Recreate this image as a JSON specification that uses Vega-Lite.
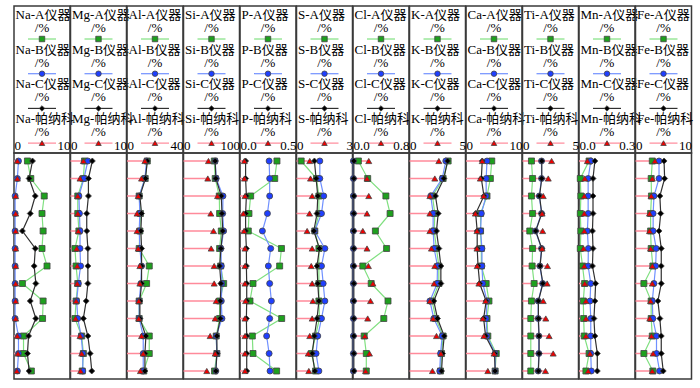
{
"$schema":"https://vega.github.io/schema/vega-lite/v6.json",
"padding":{"left":9,"top":5,"right":5,"bottom":5},
"data":{"values":[
{"el":"Na","s":1,"A":2.4,"B":0.8,"C":3.3,"P":0.6},{"el":"Na","s":2,"A":3.0,"B":0.6,"C":2.7,"P":0.6},{"el":"Na","s":3,"A":5.4,"B":0.2,"C":3.8,"P":0.3},{"el":"Na","s":4,"A":5.0,"B":0.2,"C":2.9,"P":0.3},{"el":"Na","s":5,"A":5.2,"B":0.2,"C":1.5,"P":0.3},{"el":"Na","s":6,"A":5.0,"B":0.2,"C":3.8,"P":0.3},{"el":"Na","s":7,"A":5.9,"B":0.2,"C":3.6,"P":0.3},{"el":"Na","s":8,"A":1.5,"B":0.2,"C":3.9,"P":0.3},{"el":"Na","s":9,"A":5.2,"B":0.2,"C":2.9,"P":0.3},{"el":"Na","s":10,"A":5.1,"B":0.2,"C":3.9,"P":0.3},{"el":"Na","s":11,"A":1.7,"B":0.8,"C":2.6,"P":0.6},{"el":"Na","s":12,"A":1.7,"B":0.8,"C":2.4,"P":0.7},{"el":"Na","s":13,"A":3.1,"B":0.6,"C":2.7,"P":0.5},
{"el":"Mg","s":1,"A":2.5,"B":3.1,"C":3.9,"P":2.3},{"el":"Mg","s":2,"A":2.3,"B":2.4,"C":3.2,"P":1.7},{"el":"Mg","s":3,"A":1.3,"B":1.5,"C":3.2,"P":1.3},{"el":"Mg","s":4,"A":1.3,"B":1.6,"C":2.9,"P":1.3},{"el":"Mg","s":5,"A":1.5,"B":1.7,"C":2.9,"P":1.4},{"el":"Mg","s":6,"A":0.8,"B":1.7,"C":3.1,"P":1.1},{"el":"Mg","s":7,"A":1.0,"B":1.8,"C":3.1,"P":1.2},{"el":"Mg","s":8,"A":1.3,"B":1.4,"C":3.1,"P":1.2},{"el":"Mg","s":9,"A":1.0,"B":1.1,"C":2.8,"P":1.0},{"el":"Mg","s":10,"A":0.8,"B":1.3,"C":2.3,"P":0.9},{"el":"Mg","s":11,"A":2.0,"B":1.9,"C":3.1,"P":1.7},{"el":"Mg","s":12,"A":2.3,"B":2.2,"C":3.5,"P":2.0},{"el":"Mg","s":13,"A":2.1,"B":2.2,"C":3.8,"P":1.8},
{"el":"Al","s":1,"A":14.5,"B":14,"C":14.5,"P":12.8},{"el":"Al","s":2,"A":13,"B":12.8,"C":13.2,"P":10.4},{"el":"Al","s":3,"A":8.7,"B":8.7,"C":9.2,"P":8},{"el":"Al","s":4,"A":9.6,"B":9.2,"C":10.4,"P":7.2},{"el":"Al","s":5,"A":9.2,"B":8.7,"C":9.9,"P":7.2},{"el":"Al","s":6,"A":8.7,"B":9.2,"C":10.4,"P":8},{"el":"Al","s":7,"A":15.9,"B":10.4,"C":10.4,"P":9.2},{"el":"Al","s":8,"A":14,"B":9.9,"C":10.4,"P":9.2},{"el":"Al","s":9,"A":8.7,"B":8.7,"C":9.2,"P":8.4},{"el":"Al","s":10,"A":8.7,"B":8.7,"C":9.2,"P":8.4},{"el":"Al","s":11,"A":15.9,"B":11.6,"C":13.5,"P":10.4},{"el":"Al","s":12,"A":15.9,"B":11.6,"C":12.8,"P":11.6},{"el":"Al","s":13,"A":12,"B":11.6,"C":12.8,"P":9.6},
{"el":"Si","s":1,"A":55,"B":56.6,"C":56.6,"P":44.6},{"el":"Si","s":2,"A":56.6,"B":58.4,"C":57.8,"P":43.4},{"el":"Si","s":3,"A":63.9,"B":70.5,"C":67.5,"P":60.8},{"el":"Si","s":4,"A":64.5,"B":70,"C":68.7,"P":48.8},{"el":"Si","s":5,"A":67.5,"B":71.7,"C":70,"P":53.6},{"el":"Si","s":6,"A":64.5,"B":66.9,"C":66.9,"P":49.4},{"el":"Si","s":7,"A":66.3,"B":67.5,"C":64.5,"P":54.8},{"el":"Si","s":8,"A":71.7,"B":68.7,"C":66.9,"P":54.8},{"el":"Si","s":9,"A":64.5,"B":67.5,"C":65.7,"P":58.4},{"el":"Si","s":10,"A":64.5,"B":68.7,"C":65.7,"P":56.6},{"el":"Si","s":11,"A":58.4,"B":58.4,"C":59.6,"P":47.6},{"el":"Si","s":12,"A":59.6,"B":59.6,"C":59.6,"P":56.6},{"el":"Si","s":13,"A":55.4,"B":57.8,"C":57.8,"P":41.6},
{"el":"P","s":1,"A":0.33,"B":0.26,"C":0.05,"P":0.039},{"el":"P","s":2,"A":0.31,"B":0.265,"C":0.05,"P":0.04},{"el":"P","s":3,"A":0.095,"B":0.265,"C":0.057,"P":0.045},{"el":"P","s":4,"A":0.08,"B":0.245,"C":0.05,"P":0.03},{"el":"P","s":5,"A":0.074,"B":0.2,"C":0.05,"P":0.036},{"el":"P","s":6,"A":0.37,"B":0.274,"C":0.057,"P":0.045},{"el":"P","s":7,"A":0.354,"B":0.253,"C":0.057,"P":0.045},{"el":"P","s":8,"A":0.116,"B":0.265,"C":0.06,"P":0.045},{"el":"P","s":9,"A":0.089,"B":0.28,"C":0.06,"P":0.05},{"el":"P","s":10,"A":0.372,"B":0.265,"C":0.057,"P":0.045},{"el":"P","s":11,"A":0.11,"B":0.238,"C":0.06,"P":0.045},{"el":"P","s":12,"A":0.116,"B":0.26,"C":0.06,"P":0.045},{"el":"P","s":13,"A":0.327,"B":0.268,"C":0.06,"P":0.045},
{"el":"S","s":1,"A":0.25,"B":1.25,"C":0.96,"P":0.71},{"el":"S","s":2,"A":1.07,"B":1.25,"C":1.05,"P":0.75},{"el":"S","s":3,"A":1.2,"B":1.46,"C":1.14,"P":0.84},{"el":"S","s":4,"A":1.2,"B":1.34,"C":1.1,"P":0.7},{"el":"S","s":5,"A":0.98,"B":0.98,"C":0.93,"P":0.57},{"el":"S","s":6,"A":1.2,"B":1.52,"C":1.23,"P":0.84},{"el":"S","s":7,"A":1.2,"B":1.34,"C":1.1,"P":0.79},{"el":"S","s":8,"A":1.2,"B":1.43,"C":1.14,"P":0.84},{"el":"S","s":9,"A":1.2,"B":1.52,"C":1.2,"P":0.88},{"el":"S","s":10,"A":1.23,"B":1.34,"C":1.1,"P":0.84},{"el":"S","s":11,"A":1.02,"B":1.14,"C":0.96,"P":0.71},{"el":"S","s":12,"A":0.8,"B":1.05,"C":0.84,"P":0.63},{"el":"S","s":13,"A":1.02,"B":1.2,"C":0.98,"P":0.66},
{"el":"Cl","s":1,"A":0.077,"B":0.005,"C":0.012,"P":0.225},{"el":"Cl","s":2,"A":0.21,"B":0.005,"C":0.012,"P":0.2},{"el":"Cl","s":3,"A":0.47,"B":0.005,"C":0.012,"P":0.225},{"el":"Cl","s":4,"A":0.53,"B":0.005,"C":0.012,"P":0.2},{"el":"Cl","s":5,"A":0.32,"B":0.005,"C":0.012,"P":0.14},{"el":"Cl","s":6,"A":0.48,"B":0.005,"C":0.012,"P":0.2},{"el":"Cl","s":7,"A":0.14,"B":0.005,"C":0.012,"P":0.22},{"el":"Cl","s":8,"A":0.26,"B":0.005,"C":0.012,"P":0.285},{"el":"Cl","s":9,"A":0.5,"B":0.005,"C":0.012,"P":0.25},{"el":"Cl","s":10,"A":0.44,"B":0.005,"C":0.012,"P":0.21},{"el":"Cl","s":11,"A":0.16,"B":0.005,"C":0.012,"P":0.17},{"el":"Cl","s":12,"A":0.19,"B":0.005,"C":0.012,"P":0.235},{"el":"Cl","s":13,"A":0.19,"B":0.005,"C":0.012,"P":0.18},
{"el":"K","s":1,"A":3.45,"B":3.24,"C":3.4,"P":2.62},{"el":"K","s":2,"A":3.0,"B":2.92,"C":3.07,"P":2.26},{"el":"K","s":3,"A":2.05,"B":1.9,"C":2.32,"P":1.82},{"el":"K","s":4,"A":2.26,"B":2.11,"C":2.56,"P":1.82},{"el":"K","s":5,"A":2.2,"B":2.11,"C":2.41,"P":1.82},{"el":"K","s":6,"A":2.41,"B":2.2,"C":2.62,"P":1.96},{"el":"K","s":7,"A":2.62,"B":2.5,"C":2.8,"P":2.26},{"el":"K","s":8,"A":2.62,"B":2.47,"C":2.8,"P":2.2},{"el":"K","s":9,"A":2.02,"B":1.82,"C":2.17,"P":1.82},{"el":"K","s":10,"A":2.35,"B":2.17,"C":2.5,"P":2.11},{"el":"K","s":11,"A":3.0,"B":2.92,"C":3.1,"P":2.41},{"el":"K","s":12,"A":2.86,"B":2.77,"C":2.95,"P":2.8},{"el":"K","s":13,"A":2.77,"B":2.7,"C":2.86,"P":2.05},
{"el":"Ca","s":1,"A":4.6,"B":3.75,"C":2.9,"P":2.9},{"el":"Ca","s":2,"A":4.35,"B":3.6,"C":2.74,"P":2.56},{"el":"Ca","s":3,"A":3.75,"B":3.6,"C":3.2,"P":3.15},{"el":"Ca","s":4,"A":2.6,"B":2.74,"C":1.73,"P":1.67},{"el":"Ca","s":5,"A":2.6,"B":2.6,"C":2.0,"P":1.96},{"el":"Ca","s":6,"A":2.74,"B":2.85,"C":2.0,"P":1.96},{"el":"Ca","s":7,"A":2.74,"B":2.85,"C":2.15,"P":2.0},{"el":"Ca","s":8,"A":3.6,"B":3.0,"C":2.44,"P":2.3},{"el":"Ca","s":9,"A":4.1,"B":3.75,"C":3.6,"P":3.5},{"el":"Ca","s":10,"A":3.75,"B":3.6,"C":3.15,"P":3.0},{"el":"Ca","s":11,"A":3.9,"B":3.75,"C":3.5,"P":3.2},{"el":"Ca","s":12,"A":5.4,"B":5.2,"C":5.1,"P":5.0},{"el":"Ca","s":13,"A":5.2,"B":5.2,"C":5.2,"P":3.9},
{"el":"Ti","s":1,"A":0.8,"B":1.7,"C":1.72,"P":2.6},{"el":"Ti","s":2,"A":0.9,"B":1.7,"C":1.72,"P":2.3},{"el":"Ti","s":3,"A":0.8,"B":1.5,"C":1.52,"P":1.85},{"el":"Ti","s":4,"A":0.9,"B":1.7,"C":1.72,"P":1.75},{"el":"Ti","s":5,"A":0.65,"B":1.16,"C":1.18,"P":1.8},{"el":"Ti","s":6,"A":0.9,"B":1.7,"C":1.72,"P":1.75},{"el":"Ti","s":7,"A":0.86,"B":1.55,"C":1.57,"P":2.23},{"el":"Ti","s":8,"A":1.04,"B":1.8,"C":1.82,"P":2.2},{"el":"Ti","s":9,"A":0.8,"B":1.4,"C":1.42,"P":1.85},{"el":"Ti","s":10,"A":0.74,"B":1.4,"C":1.42,"P":2.08},{"el":"Ti","s":11,"A":0.74,"B":1.46,"C":1.48,"P":2.38},{"el":"Ti","s":12,"A":0.74,"B":1.46,"C":1.48,"P":2.74},{"el":"Ti","s":13,"A":0.74,"B":1.4,"C":1.42,"P":2.05},
{"el":"Mn","s":1,"A":0.054,"B":0.063,"C":0.085,"P":0.045},{"el":"Mn","s":2,"A":0.007,"B":0.049,"C":0.075,"P":0.031},{"el":"Mn","s":3,"A":0.01,"B":0.049,"C":0.075,"P":0.028},{"el":"Mn","s":4,"A":0.007,"B":0.049,"C":0.075,"P":0.028},{"el":"Mn","s":5,"A":0.01,"B":0.045,"C":0.072,"P":0.028},{"el":"Mn","s":6,"A":0.007,"B":0.05,"C":0.075,"P":0.024},{"el":"Mn","s":7,"A":0.019,"B":0.049,"C":0.072,"P":0.028},{"el":"Mn","s":8,"A":0.03,"B":0.063,"C":0.089,"P":0.031},{"el":"Mn","s":9,"A":0.023,"B":0.059,"C":0.085,"P":0.037},{"el":"Mn","s":10,"A":0.025,"B":0.063,"C":0.08,"P":0.037},{"el":"Mn","s":11,"A":0.028,"B":0.063,"C":0.085,"P":0.037},{"el":"Mn","s":12,"A":0.054,"B":0.063,"C":0.098,"P":0.059},{"el":"Mn","s":13,"A":0.037,"B":0.066,"C":0.098,"P":0.049},
{"el":"Fe","s":1,"A":3.0,"B":4.2,"C":5.1,"P":3.45},{"el":"Fe","s":2,"A":2.8,"B":4.2,"C":5.2,"P":3.0},{"el":"Fe","s":3,"A":2.85,"B":3.3,"C":4.35,"P":2.8},{"el":"Fe","s":4,"A":2.7,"B":3.15,"C":4.5,"P":2.5},{"el":"Fe","s":5,"A":2.7,"B":3.15,"C":4.2,"P":2.5},{"el":"Fe","s":6,"A":2.8,"B":3.7,"C":4.6,"P":2.7},{"el":"Fe","s":7,"A":3.1,"B":3.6,"C":4.6,"P":3.0},{"el":"Fe","s":8,"A":1.5,"B":3.3,"C":4.6,"P":3.0},{"el":"Fe","s":9,"A":2.8,"B":3.0,"C":4.0,"P":2.7},{"el":"Fe","s":10,"A":2.8,"B":3.1,"C":4.35,"P":2.55},{"el":"Fe","s":11,"A":3.0,"B":3.75,"C":4.6,"P":2.85},{"el":"Fe","s":12,"A":1.5,"B":3.75,"C":4.6,"P":3.15},{"el":"Fe","s":13,"A":3.1,"B":4.3,"C":4.95,"P":3.0}
]},
"columns":12,
"spacing":{"column":0.5,"row":0},
"bounds":"flush",
"concat":[
{"width":56,"height":147,"transform":[{"filter":"datum.el=='Na' && datum.s==1"},{"fold":["A","B","C","P"],"as":["ser","v"]},{"calculate":"datum.el + '-' + (datum.ser == 'P' ? '帕纳科' : datum.ser + '仪器')","as":"lab"}],"encoding":{"y":{"field":"ser","type":"nominal","axis":null,"scale":{"type":"point","padding":0.618,"align":0.21}},"x":{"datum":0.5,"type":"quantitative","axis":null,"scale":{"domain":[0,1]}}},"layer":[{"mark":{"type":"text","fontSize":13,"baseline":"middle","align":"left","dx":1.5,"color":"#000"},"encoding":{"x":{"datum":0,"type":"quantitative"},"text":{"field":"lab","type":"nominal"}}},{"mark":{"type":"text","fontSize":13,"baseline":"middle","color":"#000","text":"/%","dy":13}},{"mark":{"type":"rule","yOffset":24,"strokeWidth":1.2},"encoding":{"x":{"datum":0.25,"type":"quantitative"},"x2":{"datum":0.75},"color":{"field":"ser","type":"nominal"}}},{"mark":{"type":"point","filled":true,"size":30,"stroke":"#444","strokeWidth":0.8,"opacity":1,"yOffset":24},"encoding":{"shape":{"field":"ser","type":"nominal"},"fill":{"field":"ser","type":"nominal","scale":{"range":["#1ea01e","#1f3fff","#000000","#ee0000"]}}}}]},
{"width":56,"height":147,"transform":[{"filter":"datum.el=='Mg' && datum.s==1"},{"fold":["A","B","C","P"],"as":["ser","v"]},{"calculate":"datum.el + '-' + (datum.ser == 'P' ? '帕纳科' : datum.ser + '仪器')","as":"lab"}],"encoding":{"y":{"field":"ser","type":"nominal","axis":null,"scale":{"type":"point","padding":0.618,"align":0.21}},"x":{"datum":0.5,"type":"quantitative","axis":null,"scale":{"domain":[0,1]}}},"layer":[{"mark":{"type":"text","fontSize":13,"baseline":"middle","align":"left","dx":1.5,"color":"#000"},"encoding":{"x":{"datum":0,"type":"quantitative"},"text":{"field":"lab","type":"nominal"}}},{"mark":{"type":"text","fontSize":13,"baseline":"middle","color":"#000","text":"/%","dy":13}},{"mark":{"type":"rule","yOffset":24,"strokeWidth":1.2},"encoding":{"x":{"datum":0.25,"type":"quantitative"},"x2":{"datum":0.75},"color":{"field":"ser","type":"nominal"}}},{"mark":{"type":"point","filled":true,"size":30,"stroke":"#444","strokeWidth":0.8,"opacity":1,"yOffset":24},"encoding":{"shape":{"field":"ser","type":"nominal"},"fill":{"field":"ser","type":"nominal","scale":{"range":["#1ea01e","#1f3fff","#000000","#ee0000"]}}}}]},
{"width":56,"height":147,"transform":[{"filter":"datum.el=='Al' && datum.s==1"},{"fold":["A","B","C","P"],"as":["ser","v"]},{"calculate":"datum.el + '-' + (datum.ser == 'P' ? '帕纳科' : datum.ser + '仪器')","as":"lab"}],"encoding":{"y":{"field":"ser","type":"nominal","axis":null,"scale":{"type":"point","padding":0.618,"align":0.21}},"x":{"datum":0.5,"type":"quantitative","axis":null,"scale":{"domain":[0,1]}}},"layer":[{"mark":{"type":"text","fontSize":13,"baseline":"middle","align":"left","dx":1.5,"color":"#000"},"encoding":{"x":{"datum":0,"type":"quantitative"},"text":{"field":"lab","type":"nominal"}}},{"mark":{"type":"text","fontSize":13,"baseline":"middle","color":"#000","text":"/%","dy":13}},{"mark":{"type":"rule","yOffset":24,"strokeWidth":1.2},"encoding":{"x":{"datum":0.25,"type":"quantitative"},"x2":{"datum":0.75},"color":{"field":"ser","type":"nominal"}}},{"mark":{"type":"point","filled":true,"size":30,"stroke":"#444","strokeWidth":0.8,"opacity":1,"yOffset":24},"encoding":{"shape":{"field":"ser","type":"nominal"},"fill":{"field":"ser","type":"nominal","scale":{"range":["#1ea01e","#1f3fff","#000000","#ee0000"]}}}}]},
{"width":56,"height":147,"transform":[{"filter":"datum.el=='Si' && datum.s==1"},{"fold":["A","B","C","P"],"as":["ser","v"]},{"calculate":"datum.el + '-' + (datum.ser == 'P' ? '帕纳科' : datum.ser + '仪器')","as":"lab"}],"encoding":{"y":{"field":"ser","type":"nominal","axis":null,"scale":{"type":"point","padding":0.618,"align":0.21}},"x":{"datum":0.5,"type":"quantitative","axis":null,"scale":{"domain":[0,1]}}},"layer":[{"mark":{"type":"text","fontSize":13,"baseline":"middle","align":"left","dx":1.5,"color":"#000"},"encoding":{"x":{"datum":0,"type":"quantitative"},"text":{"field":"lab","type":"nominal"}}},{"mark":{"type":"text","fontSize":13,"baseline":"middle","color":"#000","text":"/%","dy":13}},{"mark":{"type":"rule","yOffset":24,"strokeWidth":1.2},"encoding":{"x":{"datum":0.25,"type":"quantitative"},"x2":{"datum":0.75},"color":{"field":"ser","type":"nominal"}}},{"mark":{"type":"point","filled":true,"size":30,"stroke":"#444","strokeWidth":0.8,"opacity":1,"yOffset":24},"encoding":{"shape":{"field":"ser","type":"nominal"},"fill":{"field":"ser","type":"nominal","scale":{"range":["#1ea01e","#1f3fff","#000000","#ee0000"]}}}}]},
{"width":56,"height":147,"transform":[{"filter":"datum.el=='P' && datum.s==1"},{"fold":["A","B","C","P"],"as":["ser","v"]},{"calculate":"datum.el + '-' + (datum.ser == 'P' ? '帕纳科' : datum.ser + '仪器')","as":"lab"}],"encoding":{"y":{"field":"ser","type":"nominal","axis":null,"scale":{"type":"point","padding":0.618,"align":0.21}},"x":{"datum":0.5,"type":"quantitative","axis":null,"scale":{"domain":[0,1]}}},"layer":[{"mark":{"type":"text","fontSize":13,"baseline":"middle","align":"left","dx":1.5,"color":"#000"},"encoding":{"x":{"datum":0,"type":"quantitative"},"text":{"field":"lab","type":"nominal"}}},{"mark":{"type":"text","fontSize":13,"baseline":"middle","color":"#000","text":"/%","dy":13}},{"mark":{"type":"rule","yOffset":24,"strokeWidth":1.2},"encoding":{"x":{"datum":0.25,"type":"quantitative"},"x2":{"datum":0.75},"color":{"field":"ser","type":"nominal"}}},{"mark":{"type":"point","filled":true,"size":30,"stroke":"#444","strokeWidth":0.8,"opacity":1,"yOffset":24},"encoding":{"shape":{"field":"ser","type":"nominal"},"fill":{"field":"ser","type":"nominal","scale":{"range":["#1ea01e","#1f3fff","#000000","#ee0000"]}}}}]},
{"width":56,"height":147,"transform":[{"filter":"datum.el=='S' && datum.s==1"},{"fold":["A","B","C","P"],"as":["ser","v"]},{"calculate":"datum.el + '-' + (datum.ser == 'P' ? '帕纳科' : datum.ser + '仪器')","as":"lab"}],"encoding":{"y":{"field":"ser","type":"nominal","axis":null,"scale":{"type":"point","padding":0.618,"align":0.21}},"x":{"datum":0.5,"type":"quantitative","axis":null,"scale":{"domain":[0,1]}}},"layer":[{"mark":{"type":"text","fontSize":13,"baseline":"middle","align":"left","dx":1.5,"color":"#000"},"encoding":{"x":{"datum":0,"type":"quantitative"},"text":{"field":"lab","type":"nominal"}}},{"mark":{"type":"text","fontSize":13,"baseline":"middle","color":"#000","text":"/%","dy":13}},{"mark":{"type":"rule","yOffset":24,"strokeWidth":1.2},"encoding":{"x":{"datum":0.25,"type":"quantitative"},"x2":{"datum":0.75},"color":{"field":"ser","type":"nominal"}}},{"mark":{"type":"point","filled":true,"size":30,"stroke":"#444","strokeWidth":0.8,"opacity":1,"yOffset":24},"encoding":{"shape":{"field":"ser","type":"nominal"},"fill":{"field":"ser","type":"nominal","scale":{"range":["#1ea01e","#1f3fff","#000000","#ee0000"]}}}}]},
{"width":56,"height":147,"transform":[{"filter":"datum.el=='Cl' && datum.s==1"},{"fold":["A","B","C","P"],"as":["ser","v"]},{"calculate":"datum.el + '-' + (datum.ser == 'P' ? '帕纳科' : datum.ser + '仪器')","as":"lab"}],"encoding":{"y":{"field":"ser","type":"nominal","axis":null,"scale":{"type":"point","padding":0.618,"align":0.21}},"x":{"datum":0.5,"type":"quantitative","axis":null,"scale":{"domain":[0,1]}}},"layer":[{"mark":{"type":"text","fontSize":13,"baseline":"middle","align":"left","dx":1.5,"color":"#000"},"encoding":{"x":{"datum":0,"type":"quantitative"},"text":{"field":"lab","type":"nominal"}}},{"mark":{"type":"text","fontSize":13,"baseline":"middle","color":"#000","text":"/%","dy":13}},{"mark":{"type":"rule","yOffset":24,"strokeWidth":1.2},"encoding":{"x":{"datum":0.25,"type":"quantitative"},"x2":{"datum":0.75},"color":{"field":"ser","type":"nominal"}}},{"mark":{"type":"point","filled":true,"size":30,"stroke":"#444","strokeWidth":0.8,"opacity":1,"yOffset":24},"encoding":{"shape":{"field":"ser","type":"nominal"},"fill":{"field":"ser","type":"nominal","scale":{"range":["#1ea01e","#1f3fff","#000000","#ee0000"]}}}}]},
{"width":56,"height":147,"transform":[{"filter":"datum.el=='K' && datum.s==1"},{"fold":["A","B","C","P"],"as":["ser","v"]},{"calculate":"datum.el + '-' + (datum.ser == 'P' ? '帕纳科' : datum.ser + '仪器')","as":"lab"}],"encoding":{"y":{"field":"ser","type":"nominal","axis":null,"scale":{"type":"point","padding":0.618,"align":0.21}},"x":{"datum":0.5,"type":"quantitative","axis":null,"scale":{"domain":[0,1]}}},"layer":[{"mark":{"type":"text","fontSize":13,"baseline":"middle","align":"left","dx":1.5,"color":"#000"},"encoding":{"x":{"datum":0,"type":"quantitative"},"text":{"field":"lab","type":"nominal"}}},{"mark":{"type":"text","fontSize":13,"baseline":"middle","color":"#000","text":"/%","dy":13}},{"mark":{"type":"rule","yOffset":24,"strokeWidth":1.2},"encoding":{"x":{"datum":0.25,"type":"quantitative"},"x2":{"datum":0.75},"color":{"field":"ser","type":"nominal"}}},{"mark":{"type":"point","filled":true,"size":30,"stroke":"#444","strokeWidth":0.8,"opacity":1,"yOffset":24},"encoding":{"shape":{"field":"ser","type":"nominal"},"fill":{"field":"ser","type":"nominal","scale":{"range":["#1ea01e","#1f3fff","#000000","#ee0000"]}}}}]},
{"width":56,"height":147,"transform":[{"filter":"datum.el=='Ca' && datum.s==1"},{"fold":["A","B","C","P"],"as":["ser","v"]},{"calculate":"datum.el + '-' + (datum.ser == 'P' ? '帕纳科' : datum.ser + '仪器')","as":"lab"}],"encoding":{"y":{"field":"ser","type":"nominal","axis":null,"scale":{"type":"point","padding":0.618,"align":0.21}},"x":{"datum":0.5,"type":"quantitative","axis":null,"scale":{"domain":[0,1]}}},"layer":[{"mark":{"type":"text","fontSize":13,"baseline":"middle","align":"left","dx":1.5,"color":"#000"},"encoding":{"x":{"datum":0,"type":"quantitative"},"text":{"field":"lab","type":"nominal"}}},{"mark":{"type":"text","fontSize":13,"baseline":"middle","color":"#000","text":"/%","dy":13}},{"mark":{"type":"rule","yOffset":24,"strokeWidth":1.2},"encoding":{"x":{"datum":0.25,"type":"quantitative"},"x2":{"datum":0.75},"color":{"field":"ser","type":"nominal"}}},{"mark":{"type":"point","filled":true,"size":30,"stroke":"#444","strokeWidth":0.8,"opacity":1,"yOffset":24},"encoding":{"shape":{"field":"ser","type":"nominal"},"fill":{"field":"ser","type":"nominal","scale":{"range":["#1ea01e","#1f3fff","#000000","#ee0000"]}}}}]},
{"width":56,"height":147,"transform":[{"filter":"datum.el=='Ti' && datum.s==1"},{"fold":["A","B","C","P"],"as":["ser","v"]},{"calculate":"datum.el + '-' + (datum.ser == 'P' ? '帕纳科' : datum.ser + '仪器')","as":"lab"}],"encoding":{"y":{"field":"ser","type":"nominal","axis":null,"scale":{"type":"point","padding":0.618,"align":0.21}},"x":{"datum":0.5,"type":"quantitative","axis":null,"scale":{"domain":[0,1]}}},"layer":[{"mark":{"type":"text","fontSize":13,"baseline":"middle","align":"left","dx":1.5,"color":"#000"},"encoding":{"x":{"datum":0,"type":"quantitative"},"text":{"field":"lab","type":"nominal"}}},{"mark":{"type":"text","fontSize":13,"baseline":"middle","color":"#000","text":"/%","dy":13}},{"mark":{"type":"rule","yOffset":24,"strokeWidth":1.2},"encoding":{"x":{"datum":0.25,"type":"quantitative"},"x2":{"datum":0.75},"color":{"field":"ser","type":"nominal"}}},{"mark":{"type":"point","filled":true,"size":30,"stroke":"#444","strokeWidth":0.8,"opacity":1,"yOffset":24},"encoding":{"shape":{"field":"ser","type":"nominal"},"fill":{"field":"ser","type":"nominal","scale":{"range":["#1ea01e","#1f3fff","#000000","#ee0000"]}}}}]},
{"width":56,"height":147,"transform":[{"filter":"datum.el=='Mn' && datum.s==1"},{"fold":["A","B","C","P"],"as":["ser","v"]},{"calculate":"datum.el + '-' + (datum.ser == 'P' ? '帕纳科' : datum.ser + '仪器')","as":"lab"}],"encoding":{"y":{"field":"ser","type":"nominal","axis":null,"scale":{"type":"point","padding":0.618,"align":0.21}},"x":{"datum":0.5,"type":"quantitative","axis":null,"scale":{"domain":[0,1]}}},"layer":[{"mark":{"type":"text","fontSize":13,"baseline":"middle","align":"left","dx":1.5,"color":"#000"},"encoding":{"x":{"datum":0,"type":"quantitative"},"text":{"field":"lab","type":"nominal"}}},{"mark":{"type":"text","fontSize":13,"baseline":"middle","color":"#000","text":"/%","dy":13}},{"mark":{"type":"rule","yOffset":24,"strokeWidth":1.2},"encoding":{"x":{"datum":0.25,"type":"quantitative"},"x2":{"datum":0.75},"color":{"field":"ser","type":"nominal"}}},{"mark":{"type":"point","filled":true,"size":30,"stroke":"#444","strokeWidth":0.8,"opacity":1,"yOffset":24},"encoding":{"shape":{"field":"ser","type":"nominal"},"fill":{"field":"ser","type":"nominal","scale":{"range":["#1ea01e","#1f3fff","#000000","#ee0000"]}}}}]},
{"width":56,"height":147,"transform":[{"filter":"datum.el=='Fe' && datum.s==1"},{"fold":["A","B","C","P"],"as":["ser","v"]},{"calculate":"datum.el + '-' + (datum.ser == 'P' ? '帕纳科' : datum.ser + '仪器')","as":"lab"}],"encoding":{"y":{"field":"ser","type":"nominal","axis":null,"scale":{"type":"point","padding":0.618,"align":0.21}},"x":{"datum":0.5,"type":"quantitative","axis":null,"scale":{"domain":[0,1]}}},"layer":[{"mark":{"type":"text","fontSize":13,"baseline":"middle","align":"left","dx":1.5,"color":"#000"},"encoding":{"x":{"datum":0,"type":"quantitative"},"text":{"field":"lab","type":"nominal"}}},{"mark":{"type":"text","fontSize":13,"baseline":"middle","color":"#000","text":"/%","dy":13}},{"mark":{"type":"rule","yOffset":24,"strokeWidth":1.2},"encoding":{"x":{"datum":0.25,"type":"quantitative"},"x2":{"datum":0.75},"color":{"field":"ser","type":"nominal"}}},{"mark":{"type":"point","filled":true,"size":30,"stroke":"#444","strokeWidth":0.8,"opacity":1,"yOffset":24},"encoding":{"shape":{"field":"ser","type":"nominal"},"fill":{"field":"ser","type":"nominal","scale":{"range":["#1ea01e","#1f3fff","#000000","#ee0000"]}}}}]},
{"width":56,"height":226,"transform":[{"filter":"datum.el=='Na'"},{"fold":["A","B","C","P"],"as":["ser","v"]}],"encoding":{"y":{"field":"s","type":"ordinal","axis":null,"scale":{"type":"point","padding":0.457}},"x":{"field":"v","type":"quantitative","scale":{"domain":[0,10]},"axis":{"orient":"top","values":[0,10],"title":null}}},"layer":[{"transform":[{"filter":"datum.ser=='P'"}],"mark":{"type":"rule","color":"#ff8a9a","strokeWidth":1.5},"encoding":{"x":{"datum":0,"type":"quantitative"},"x2":{"field":"v"}}},{"transform":[{"filter":"datum.ser!='P'"}],"mark":{"type":"line","strokeWidth":1.2},"encoding":{"color":{"field":"ser","type":"nominal"},"order":{"field":"s","type":"quantitative"}}},{"mark":{"type":"point","filled":true,"size":36,"stroke":"#444","strokeWidth":0.8,"opacity":1},"encoding":{"shape":{"field":"ser","type":"nominal"},"fill":{"field":"ser","type":"nominal","scale":{"range":["#1ea01e","#1f3fff","#000000","#ee0000"]}}}}]},
{"width":56,"height":226,"transform":[{"filter":"datum.el=='Mg'"},{"fold":["A","B","C","P"],"as":["ser","v"]}],"encoding":{"y":{"field":"s","type":"ordinal","axis":null,"scale":{"type":"point","padding":0.457}},"x":{"field":"v","type":"quantitative","scale":{"domain":[0,10]},"axis":{"orient":"top","values":[0,10],"title":null}}},"layer":[{"transform":[{"filter":"datum.ser=='P'"}],"mark":{"type":"rule","color":"#ff8a9a","strokeWidth":1.5},"encoding":{"x":{"datum":0,"type":"quantitative"},"x2":{"field":"v"}}},{"transform":[{"filter":"datum.ser!='P'"}],"mark":{"type":"line","strokeWidth":1.2},"encoding":{"color":{"field":"ser","type":"nominal"},"order":{"field":"s","type":"quantitative"}}},{"mark":{"type":"point","filled":true,"size":36,"stroke":"#444","strokeWidth":0.8,"opacity":1},"encoding":{"shape":{"field":"ser","type":"nominal"},"fill":{"field":"ser","type":"nominal","scale":{"range":["#1ea01e","#1f3fff","#000000","#ee0000"]}}}}]},
{"width":56,"height":226,"transform":[{"filter":"datum.el=='Al'"},{"fold":["A","B","C","P"],"as":["ser","v"]}],"encoding":{"y":{"field":"s","type":"ordinal","axis":null,"scale":{"type":"point","padding":0.457}},"x":{"field":"v","type":"quantitative","scale":{"domain":[0,40]},"axis":{"orient":"top","values":[0,40],"title":null}}},"layer":[{"transform":[{"filter":"datum.ser=='P'"}],"mark":{"type":"rule","color":"#ff8a9a","strokeWidth":1.5},"encoding":{"x":{"datum":0,"type":"quantitative"},"x2":{"field":"v"}}},{"transform":[{"filter":"datum.ser!='P'"}],"mark":{"type":"line","strokeWidth":1.2},"encoding":{"color":{"field":"ser","type":"nominal"},"order":{"field":"s","type":"quantitative"}}},{"mark":{"type":"point","filled":true,"size":36,"stroke":"#444","strokeWidth":0.8,"opacity":1},"encoding":{"shape":{"field":"ser","type":"nominal"},"fill":{"field":"ser","type":"nominal","scale":{"range":["#1ea01e","#1f3fff","#000000","#ee0000"]}}}}]},
{"width":56,"height":226,"transform":[{"filter":"datum.el=='Si'"},{"fold":["A","B","C","P"],"as":["ser","v"]}],"encoding":{"y":{"field":"s","type":"ordinal","axis":null,"scale":{"type":"point","padding":0.457}},"x":{"field":"v","type":"quantitative","scale":{"domain":[0,100]},"axis":{"orient":"top","values":[0,100],"title":null}}},"layer":[{"transform":[{"filter":"datum.ser=='P'"}],"mark":{"type":"rule","color":"#ff8a9a","strokeWidth":1.5},"encoding":{"x":{"datum":0,"type":"quantitative"},"x2":{"field":"v"}}},{"transform":[{"filter":"datum.ser!='P'"}],"mark":{"type":"line","strokeWidth":1.2},"encoding":{"color":{"field":"ser","type":"nominal"},"order":{"field":"s","type":"quantitative"}}},{"mark":{"type":"point","filled":true,"size":36,"stroke":"#444","strokeWidth":0.8,"opacity":1},"encoding":{"shape":{"field":"ser","type":"nominal"},"fill":{"field":"ser","type":"nominal","scale":{"range":["#1ea01e","#1f3fff","#000000","#ee0000"]}}}}]},
{"width":56,"height":226,"transform":[{"filter":"datum.el=='P'"},{"fold":["A","B","C","P"],"as":["ser","v"]}],"encoding":{"y":{"field":"s","type":"ordinal","axis":null,"scale":{"type":"point","padding":0.457}},"x":{"field":"v","type":"quantitative","scale":{"domain":[0,0.5]},"axis":{"orient":"top","values":[0,0.5],"title":null}}},"layer":[{"transform":[{"filter":"datum.ser=='P'"}],"mark":{"type":"rule","color":"#ff8a9a","strokeWidth":1.5},"encoding":{"x":{"datum":0,"type":"quantitative"},"x2":{"field":"v"}}},{"transform":[{"filter":"datum.ser!='P'"}],"mark":{"type":"line","strokeWidth":1.2},"encoding":{"color":{"field":"ser","type":"nominal"},"order":{"field":"s","type":"quantitative"}}},{"mark":{"type":"point","filled":true,"size":36,"stroke":"#444","strokeWidth":0.8,"opacity":1},"encoding":{"shape":{"field":"ser","type":"nominal"},"fill":{"field":"ser","type":"nominal","scale":{"range":["#1ea01e","#1f3fff","#000000","#ee0000"]}}}}]},
{"width":56,"height":226,"transform":[{"filter":"datum.el=='S'"},{"fold":["A","B","C","P"],"as":["ser","v"]}],"encoding":{"y":{"field":"s","type":"ordinal","axis":null,"scale":{"type":"point","padding":0.457}},"x":{"field":"v","type":"quantitative","scale":{"domain":[0,3]},"axis":{"orient":"top","values":[0,3],"title":null}}},"layer":[{"transform":[{"filter":"datum.ser=='P'"}],"mark":{"type":"rule","color":"#ff8a9a","strokeWidth":1.5},"encoding":{"x":{"datum":0,"type":"quantitative"},"x2":{"field":"v"}}},{"transform":[{"filter":"datum.ser!='P'"}],"mark":{"type":"line","strokeWidth":1.2},"encoding":{"color":{"field":"ser","type":"nominal"},"order":{"field":"s","type":"quantitative"}}},{"mark":{"type":"point","filled":true,"size":36,"stroke":"#444","strokeWidth":0.8,"opacity":1},"encoding":{"shape":{"field":"ser","type":"nominal"},"fill":{"field":"ser","type":"nominal","scale":{"range":["#1ea01e","#1f3fff","#000000","#ee0000"]}}}}]},
{"width":56,"height":226,"transform":[{"filter":"datum.el=='Cl'"},{"fold":["A","B","C","P"],"as":["ser","v"]}],"encoding":{"y":{"field":"s","type":"ordinal","axis":null,"scale":{"type":"point","padding":0.457}},"x":{"field":"v","type":"quantitative","scale":{"domain":[0,0.8]},"axis":{"orient":"top","values":[0,0.8],"title":null}}},"layer":[{"transform":[{"filter":"datum.ser=='P'"}],"mark":{"type":"rule","color":"#ff8a9a","strokeWidth":1.5},"encoding":{"x":{"datum":0,"type":"quantitative"},"x2":{"field":"v"}}},{"transform":[{"filter":"datum.ser!='P'"}],"mark":{"type":"line","strokeWidth":1.2},"encoding":{"color":{"field":"ser","type":"nominal"},"order":{"field":"s","type":"quantitative"}}},{"mark":{"type":"point","filled":true,"size":36,"stroke":"#444","strokeWidth":0.8,"opacity":1},"encoding":{"shape":{"field":"ser","type":"nominal"},"fill":{"field":"ser","type":"nominal","scale":{"range":["#1ea01e","#1f3fff","#000000","#ee0000"]}}}}]},
{"width":56,"height":226,"transform":[{"filter":"datum.el=='K'"},{"fold":["A","B","C","P"],"as":["ser","v"]}],"encoding":{"y":{"field":"s","type":"ordinal","axis":null,"scale":{"type":"point","padding":0.457}},"x":{"field":"v","type":"quantitative","scale":{"domain":[0,5]},"axis":{"orient":"top","values":[0,5],"title":null}}},"layer":[{"transform":[{"filter":"datum.ser=='P'"}],"mark":{"type":"rule","color":"#ff8a9a","strokeWidth":1.5},"encoding":{"x":{"datum":0,"type":"quantitative"},"x2":{"field":"v"}}},{"transform":[{"filter":"datum.ser!='P'"}],"mark":{"type":"line","strokeWidth":1.2},"encoding":{"color":{"field":"ser","type":"nominal"},"order":{"field":"s","type":"quantitative"}}},{"mark":{"type":"point","filled":true,"size":36,"stroke":"#444","strokeWidth":0.8,"opacity":1},"encoding":{"shape":{"field":"ser","type":"nominal"},"fill":{"field":"ser","type":"nominal","scale":{"range":["#1ea01e","#1f3fff","#000000","#ee0000"]}}}}]},
{"width":56,"height":226,"transform":[{"filter":"datum.el=='Ca'"},{"fold":["A","B","C","P"],"as":["ser","v"]}],"encoding":{"y":{"field":"s","type":"ordinal","axis":null,"scale":{"type":"point","padding":0.457}},"x":{"field":"v","type":"quantitative","scale":{"domain":[0,10]},"axis":{"orient":"top","values":[0,10],"title":null}}},"layer":[{"transform":[{"filter":"datum.ser=='P'"}],"mark":{"type":"rule","color":"#ff8a9a","strokeWidth":1.5},"encoding":{"x":{"datum":0,"type":"quantitative"},"x2":{"field":"v"}}},{"transform":[{"filter":"datum.ser!='P'"}],"mark":{"type":"line","strokeWidth":1.2},"encoding":{"color":{"field":"ser","type":"nominal"},"order":{"field":"s","type":"quantitative"}}},{"mark":{"type":"point","filled":true,"size":36,"stroke":"#444","strokeWidth":0.8,"opacity":1},"encoding":{"shape":{"field":"ser","type":"nominal"},"fill":{"field":"ser","type":"nominal","scale":{"range":["#1ea01e","#1f3fff","#000000","#ee0000"]}}}}]},
{"width":56,"height":226,"transform":[{"filter":"datum.el=='Ti'"},{"fold":["A","B","C","P"],"as":["ser","v"]}],"encoding":{"y":{"field":"s","type":"ordinal","axis":null,"scale":{"type":"point","padding":0.457}},"x":{"field":"v","type":"quantitative","scale":{"domain":[0,5]},"axis":{"orient":"top","values":[0,5],"title":null}}},"layer":[{"transform":[{"filter":"datum.ser=='P'"}],"mark":{"type":"rule","color":"#ff8a9a","strokeWidth":1.5},"encoding":{"x":{"datum":0,"type":"quantitative"},"x2":{"field":"v"}}},{"transform":[{"filter":"datum.ser!='P'"}],"mark":{"type":"line","strokeWidth":1.2},"encoding":{"color":{"field":"ser","type":"nominal"},"order":{"field":"s","type":"quantitative"}}},{"mark":{"type":"point","filled":true,"size":36,"stroke":"#444","strokeWidth":0.8,"opacity":1},"encoding":{"shape":{"field":"ser","type":"nominal"},"fill":{"field":"ser","type":"nominal","scale":{"range":["#1ea01e","#1f3fff","#000000","#ee0000"]}}}}]},
{"width":56,"height":226,"transform":[{"filter":"datum.el=='Mn'"},{"fold":["A","B","C","P"],"as":["ser","v"]}],"encoding":{"y":{"field":"s","type":"ordinal","axis":null,"scale":{"type":"point","padding":0.457}},"x":{"field":"v","type":"quantitative","scale":{"domain":[0,0.3]},"axis":{"orient":"top","values":[0,0.3],"title":null}}},"layer":[{"transform":[{"filter":"datum.ser=='P'"}],"mark":{"type":"rule","color":"#ff8a9a","strokeWidth":1.5},"encoding":{"x":{"datum":0,"type":"quantitative"},"x2":{"field":"v"}}},{"transform":[{"filter":"datum.ser!='P'"}],"mark":{"type":"line","strokeWidth":1.2},"encoding":{"color":{"field":"ser","type":"nominal"},"order":{"field":"s","type":"quantitative"}}},{"mark":{"type":"point","filled":true,"size":36,"stroke":"#444","strokeWidth":0.8,"opacity":1},"encoding":{"shape":{"field":"ser","type":"nominal"},"fill":{"field":"ser","type":"nominal","scale":{"range":["#1ea01e","#1f3fff","#000000","#ee0000"]}}}}]},
{"width":56,"height":226,"transform":[{"filter":"datum.el=='Fe'"},{"fold":["A","B","C","P"],"as":["ser","v"]}],"encoding":{"y":{"field":"s","type":"ordinal","axis":null,"scale":{"type":"point","padding":0.457}},"x":{"field":"v","type":"quantitative","scale":{"domain":[0,10]},"axis":{"orient":"top","values":[0,10],"title":null}}},"layer":[{"transform":[{"filter":"datum.ser=='P'"}],"mark":{"type":"rule","color":"#ff8a9a","strokeWidth":1.5},"encoding":{"x":{"datum":0,"type":"quantitative"},"x2":{"field":"v"}}},{"transform":[{"filter":"datum.ser!='P'"}],"mark":{"type":"line","strokeWidth":1.2},"encoding":{"color":{"field":"ser","type":"nominal"},"order":{"field":"s","type":"quantitative"}}},{"mark":{"type":"point","filled":true,"size":36,"stroke":"#444","strokeWidth":0.8,"opacity":1},"encoding":{"shape":{"field":"ser","type":"nominal"},"fill":{"field":"ser","type":"nominal","scale":{"range":["#1ea01e","#1f3fff","#000000","#ee0000"]}}}}]}
],
"config":{
 "font":"Liberation Serif, Noto Sans CJK SC",
 "view":{"stroke":"#3a3a3a","strokeWidth":1.5},
 "legend":{"disable":true},
 "range":{"category":["#80e080","#7090ff","#303030","#ff8a9a"],"symbol":["square","circle","diamond","triangle-up"]},
 "axisX":{"ticks":false,"grid":false,"domain":false,"labelFlush":true,"labelFontSize":13,"labelColor":"#000","labelPadding":1,"labelFont":"Liberation Serif"},
 "text":{"font":"Liberation Serif, Noto Sans CJK SC"}
}
}
